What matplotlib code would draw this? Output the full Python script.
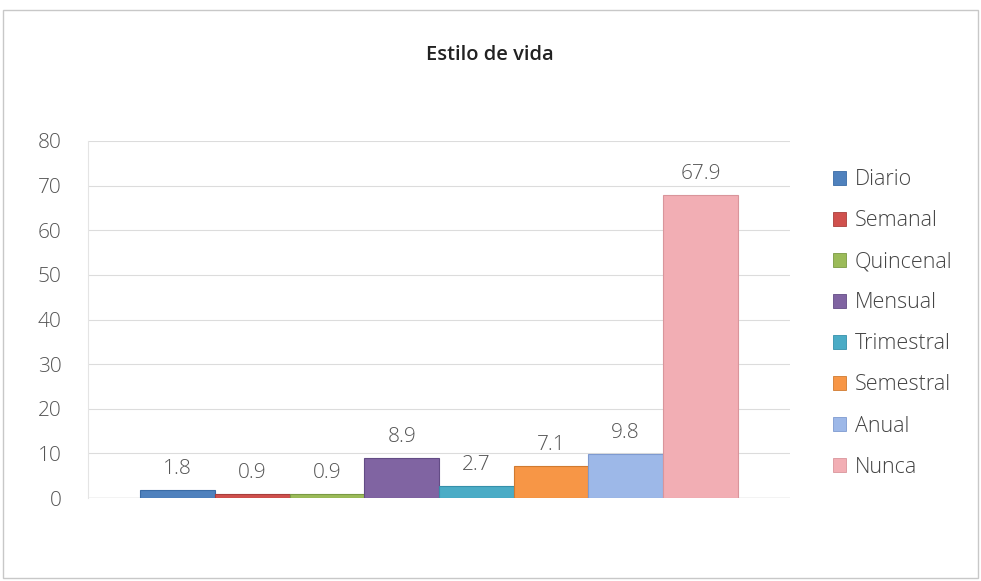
import matplotlib
matplotlib.use("Agg")
import matplotlib.pyplot as plt
from matplotlib.patches import Rectangle, Patch

plt.rcParams["font.family"] = ["Open Sans", "DejaVu Sans"]

categories = ["Diario", "Semanal", "Quincenal", "Mensual",
              "Trimestral", "Semestral", "Anual", "Nunca"]
values = [1.8, 0.9, 0.9, 8.9, 2.7, 7.1, 9.8, 67.9]
colors = ["#4F81BD", "#D0504D", "#9BBB59", "#8064A2",
          "#4BACC6", "#F79646", "#9DB8E8", "#F2AEB4"]
edges = ["#3A6BA5", "#A83E3B", "#7A9A44", "#634C85",
         "#3590AA", "#D07A30", "#7E9AD0", "#D9959B"]
yticks = [0, 10, 20, 30, 40, 50, 60, 70, 80]

W, H = 981, 581
fig = plt.figure(figsize=(W / 100, H / 100), dpi=100)

# light frame round the chart area
fig.add_artist(Rectangle((3 / W, 0.005), 975 / W, 1 - 10 / H - 0.005,
                         transform=fig.transFigure, fill=False,
                         edgecolor="#C8C8C8", lw=1.0))

ax = fig.add_axes([88 / W, (H - 498) / H, (790 - 88) / W, (498 - 141) / H])
x = list(range(len(values)))
ax.bar(x, values, width=1.0, color=colors, edgecolor=edges, linewidth=0.8,
       zorder=3)
for xi, v in zip(x, values):
    ax.annotate(f"{v}", (xi, v), xytext=(0, 8), textcoords="offset points",
                ha="center", va="bottom", fontsize=15, fontweight="light",
                color="#555555")

ax.set_ylim(0, 80)
ax.set_xlim(-1.2, 8.2)
ax.set_yticks(yticks)
ax.set_xticks([])
ax.tick_params(axis="y", length=0, pad=19, labelsize=15, labelcolor="#555555")
for lbl in ax.get_yticklabels():
    lbl.set_fontweight("light")
ax.yaxis.grid(True, color="#DCDCDC", lw=0.8, zorder=0)
for s in ["top", "right", "bottom"]:
    ax.spines[s].set_visible(False)
ax.spines["left"].set_color("#E4E4E4")
ax.spines["left"].set_linewidth(0.8)
ax.axhline(0, color="#CFCFCF", lw=1.0, zorder=2)

fig.text(490 / W, 1 - 55 / H, "Estilo de vida", ha="center", va="center",
         fontsize=14.5, fontweight="semibold", color="#222222")

handles = [Patch(facecolor=c, edgecolor=e, lw=0.6) for c, e in zip(colors, edges)]
fig.legend(handles, categories, loc="upper left",
           bbox_to_anchor=(814 / W, 1 - 150 / H), frameon=False,
           prop={"size": 15.5, "weight": "light"}, labelcolor="#444444",
           handlelength=0.6, handleheight=0.6, handletextpad=0.4,
           labelspacing=0.93)

fig.savefig("out.png", dpi=100, facecolor="white")
